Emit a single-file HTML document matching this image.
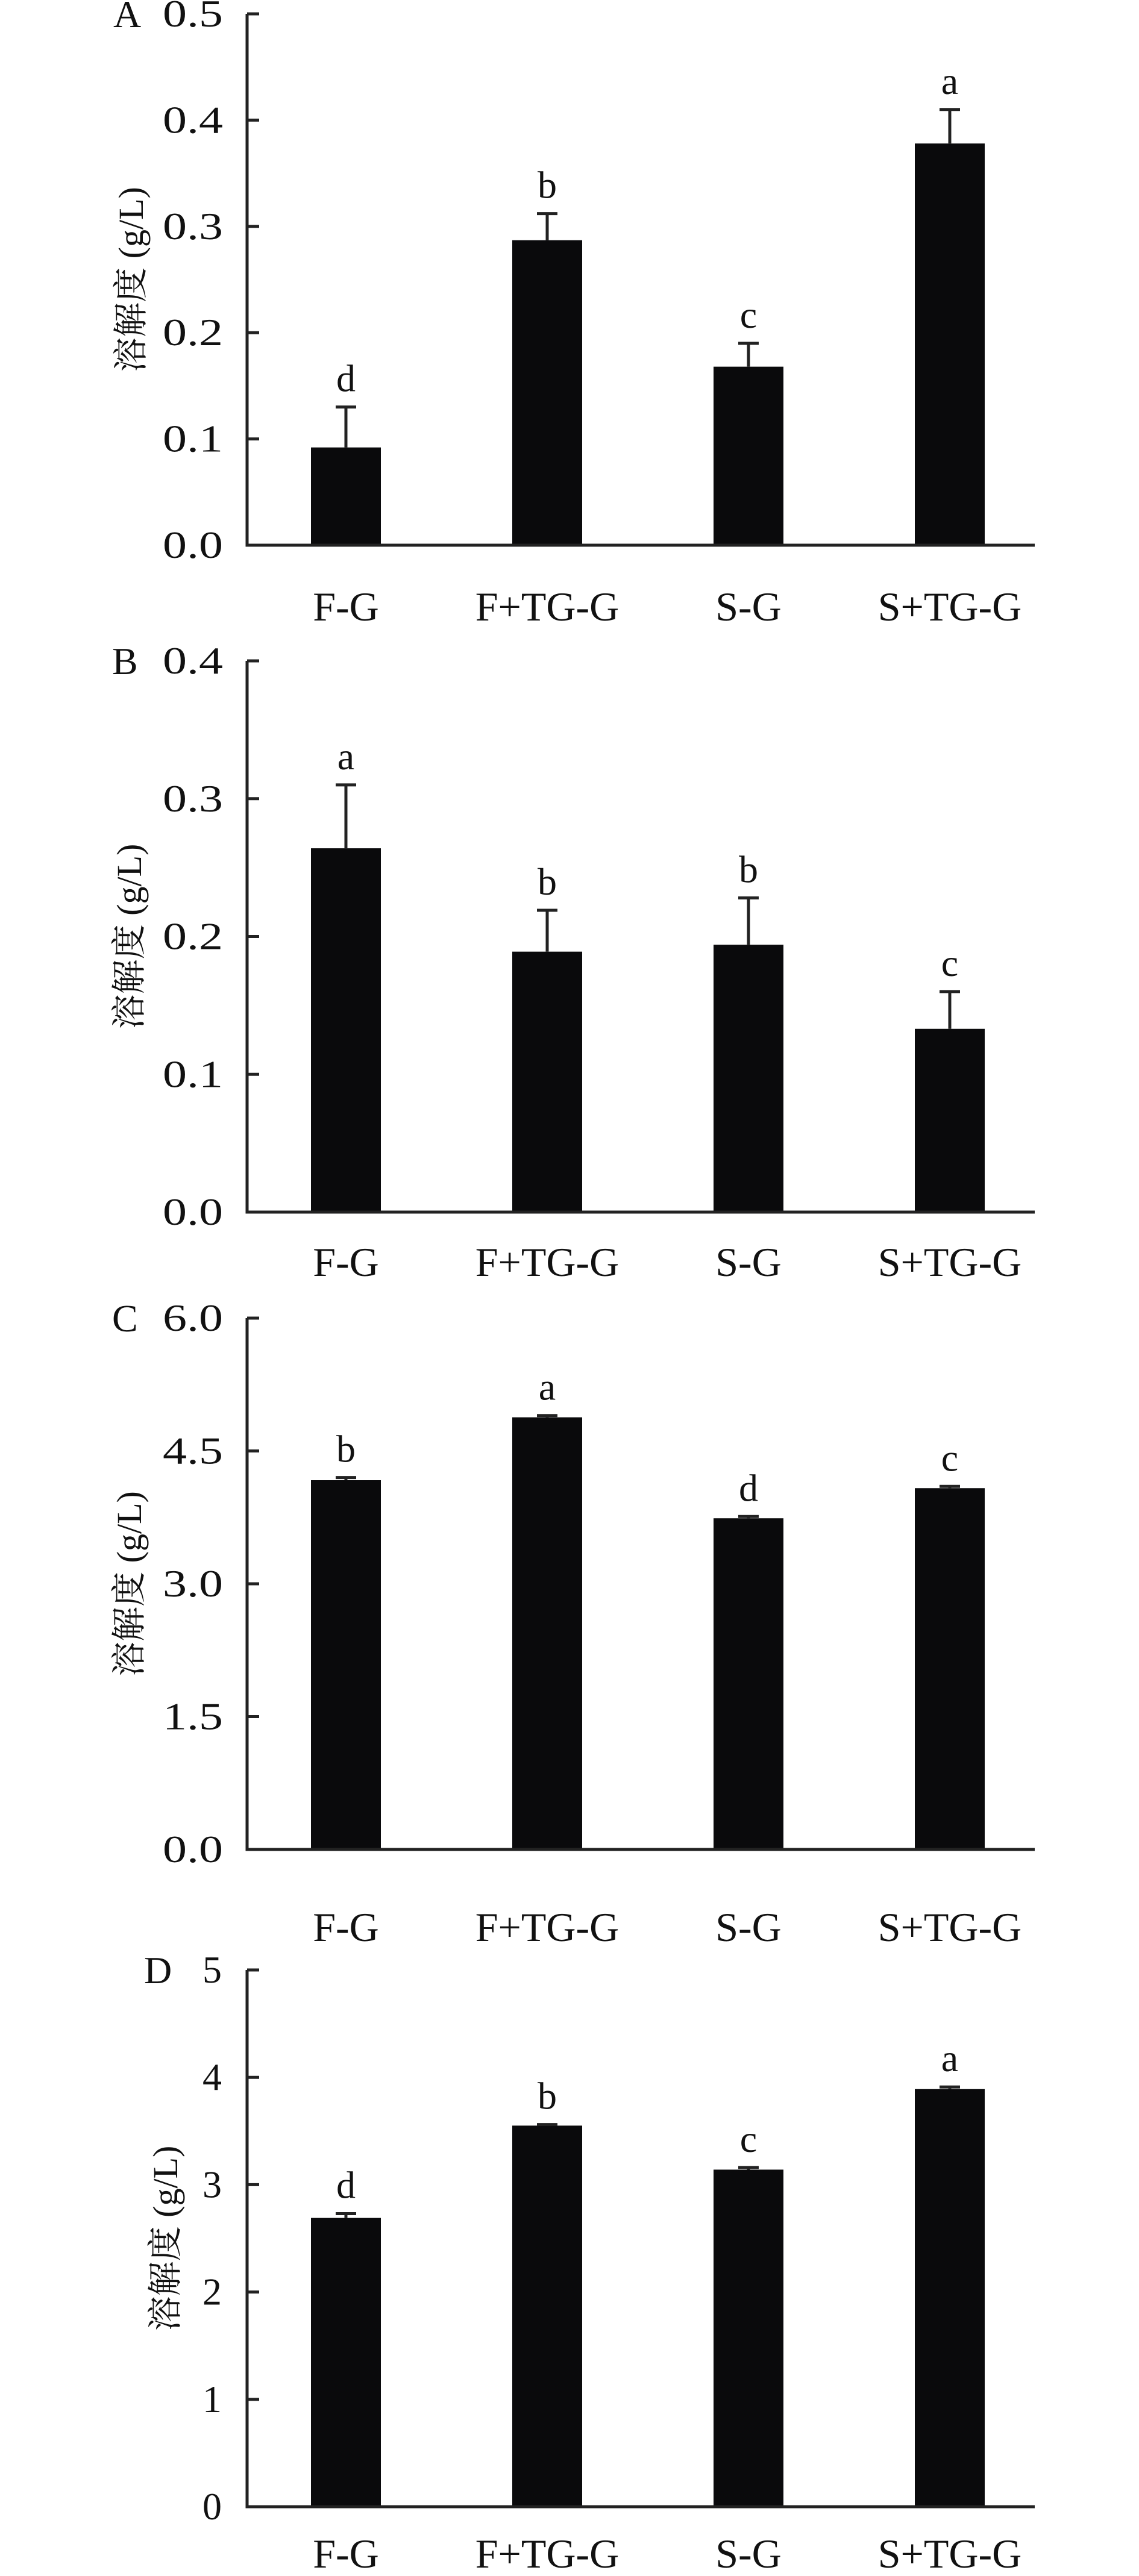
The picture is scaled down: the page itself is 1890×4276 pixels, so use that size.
<!DOCTYPE html>
<html>
<head>
<meta charset="utf-8">
<style>
html,body{margin:0;padding:0;background:#fff;}
svg{display:block;}
text{font-family:"Liberation Serif","Noto Serif CJK SC",serif;fill:#111;}
</style>
</head>
<body>
<svg id="fig" width="1890" height="4276" viewBox="0 0 1890 4276" xmlns="http://www.w3.org/2000/svg"></svg>
<script>
const categories = ["F-G", "F+TG-G", "S-G", "S+TG-G"];
const valuesA = [0.092, 0.287, 0.168, 0.378];
const errA = [0.038, 0.025, 0.022, 0.032];
const lettersA = ["d", "b", "c", "a"];
const ticksA = ["0.0", "0.1", "0.2", "0.3", "0.4", "0.5"];
const valuesB = [0.264, 0.189, 0.194, 0.133];
const errB = [0.046, 0.030, 0.034, 0.027];
const lettersB = ["a", "b", "b", "c"];
const ticksB = ["0.0", "0.1", "0.2", "0.3", "0.4"];
const valuesC = [4.17, 4.88, 3.74, 4.08];
const errC = [0.03, 0.02, 0.02, 0.02];
const lettersC = ["b", "a", "d", "c"];
const ticksC = ["0.0", "1.5", "3.0", "4.5", "6.0"];
const valuesD = [2.69, 3.55, 3.14, 3.89];
const errD = [0.04, 0.01, 0.02, 0.02];
const lettersD = ["d", "b", "c", "a"];
const ticksD = ["0", "1", "2", "3", "4", "5"];

const panels = [
  {id:"a", label:"A", vals:valuesA, errs:errA, letters:lettersA, ticks:ticksA, top:23, bottom:905, xlab:1030, titleX:215, tickRight:370, letterX:188},
  {id:"b", label:"B", vals:valuesB, errs:errB, letters:lettersB, ticks:ticksB, top:1097, bottom:2012, xlab:2118, titleX:212, tickRight:370, letterX:186},
  {id:"c", label:"C", vals:valuesC, errs:errC, letters:lettersC, ticks:ticksC, top:2188, bottom:3070, xlab:3222, titleX:212, tickRight:370, letterX:186},
  {id:"d", label:"D", vals:valuesD, errs:errD, letters:lettersD, ticks:ticksD, top:3270, bottom:4161, xlab:4262, titleX:272, tickRight:368, letterX:239}
];

const NS = "http://www.w3.org/2000/svg";
const svg = document.getElementById("fig");
function mk(tag, attrs, parent){
  const e = document.createElementNS(NS, tag);
  for (const k in attrs) e.setAttribute(k, attrs[k]);
  (parent||svg).appendChild(e);
  return e;
}
const axisX = 410, axisRight = 1717, barW = 116;
function xScale(i){ return 574 + i*334; }

panels.forEach(p => {
  const g = mk("g", {});
  
  
  const tmin = parseFloat(p.ticks[0]), tmax = parseFloat(p.ticks[p.ticks.length-1]);
  const yScale = v => p.bottom - (v - tmin)/(tmax - tmin)*(p.bottom - p.top);

  const pl = mk("text", {x:p.letterX, y:p.top+22, "font-size":64}, g);
  pl.textContent = p.label;
  
  

  const t = mk("text", {x:0, y:0, "font-size":58, "text-anchor":"middle",
    transform:`translate(${p.titleX + 22},${(p.top+p.bottom)/2}) rotate(-90)`}, g);
  t.textContent = "溶解度 (g/L)";
  
  

  p.ticks.forEach(tk => {
    const y = yScale(parseFloat(tk));
    const ln = mk("line", {x1:axisX, x2:axisX+20, y1:y, y2:y, stroke:"#222", "stroke-width":5}, g);
    
    
    const tl = mk("text", {x:p.tickRight, y:y+21, "font-size":64, "text-anchor":"end"}, g);
    if (tk.length > 1) { tl.setAttribute("textLength", 100); tl.setAttribute("lengthAdjust", "spacingAndGlyphs"); }
    tl.textContent = tk;
    
    
  });

  categories.forEach((c, i) => {
    const cx = xScale(i);
    const yv = yScale(p.vals[i]);
    const ye = yScale(p.vals[i] + p.errs[i]);
    const bar = mk("rect", {x:cx-barW/2, y:yv, width:barW, height:p.bottom-yv, fill:"#0a0a0c"}, g);
    
    
    const el = mk("path", {d:`M${cx} ${yv} V${ye} M${cx-17} ${ye} H${cx+17}`, stroke:"#222", "stroke-width":5, fill:"none"}, g);
    
    
    const lt = mk("text", {x:cx, y:ye-26, "font-size":64, "text-anchor":"middle"}, g);
    lt.textContent = p.letters[i];
    
    
    const xl = mk("text", {x:cx, y:p.xlab, "font-size":68, "text-anchor":"middle"}, g);
    xl.textContent = c;
    
    
  });

  const ax = mk("path", {d:`M${axisX} ${p.top} V${p.bottom} H${axisRight}`, stroke:"#222", "stroke-width":5, fill:"none"}, g);
  
  
});
</script>
</body>
</html>
